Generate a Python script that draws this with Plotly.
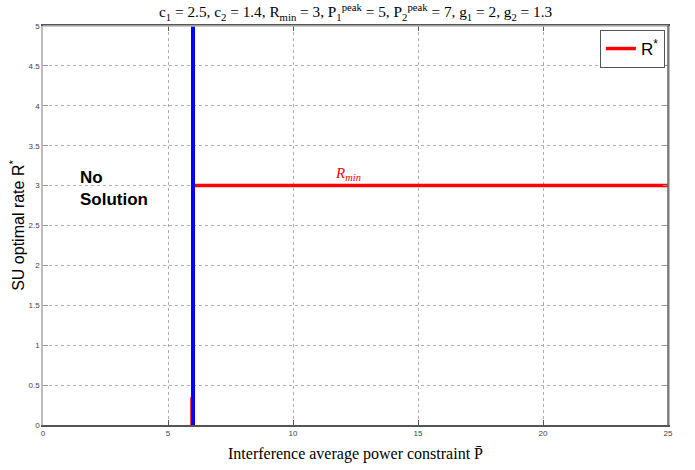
import plotly.graph_objects as go

# R* series (red): small rise segment near the threshold, then constant R_min
rstar_rise_x = [5.93, 5.93]
rstar_rise_y = [0.0, 0.35]
rstar_x = [6.0, 25.0]
rstar_y = [3.0, 3.0]
# threshold (blue vertical line)
thresh_x = [6.0, 6.0]
thresh_y = [0.0, 5.0]

x_ticks = [0, 5, 10, 15, 20, 25]
y_ticks = [0, 0.5, 1, 1.5, 2, 2.5, 3, 3.5, 4, 4.5, 5]
y_tick_text = ["0", "0.5", "1", "1.5", "2", "2.5", "3", "3.5", "4", "4.5", "5"]

fig = go.Figure()
fig.add_trace(go.Scatter(x=rstar_rise_x, y=rstar_rise_y, mode="lines",
                         line=dict(color="#ff0000", width=2), showlegend=False, hoverinfo="skip"))
fig.add_trace(go.Scatter(x=rstar_x, y=rstar_y, mode="lines", name="R<sup>*</sup>",
                         line=dict(color="#ff0000", width=3.5)))
fig.add_trace(go.Scatter(x=thresh_x, y=thresh_y, mode="lines",
                         line=dict(color="#0000ff", width=4), showlegend=False))

fig.add_annotation(x=12.2, y=3.0, xref="x", yref="y", yanchor="bottom", yshift=1,
                   text="<i>R<sub>min</sub></i>", showarrow=False,
                   font=dict(family="Liberation Serif", size=15, color="#ff0000"))
fig.add_annotation(x=1.4, y=3.25, xref="x", yref="y", xanchor="left", yanchor="top",
                   align="left", text="<b>No<br>Solution</b>", showarrow=False,
                   font=dict(family="Liberation Sans", size=17, color="black"))

# title as annotation
fig.add_annotation(x=0.5, y=1, xref="paper", yref="paper", xanchor="center", yanchor="bottom",
                   yshift=1, showarrow=False,
                   text="c<sub>1</sub> = 2.5, c<sub>2</sub> = 1.4, R<sub>min</sub> = 3, P<sub>1</sub><sup>peak</sup> = 5, P<sub>2</sub><sup>peak</sup> = 7, g<sub>1</sub> = 2, g<sub>2</sub> = 1.3",
                   font=dict(family="Liberation Serif", size=15.3, color="black"))

# borders: top light gray, right dark gray
fig.add_shape(type="line", xref="paper", yref="paper", x0=0, x1=1, y0=1, y1=1,
              line=dict(color="#bbbbbb", width=1.5))
fig.add_shape(type="line", xref="paper", yref="paper", x0=1, x1=1, y0=0, y1=1,
              line=dict(color="#666666", width=1.5))

tick_font = dict(family="Liberation Sans Narrow, Liberation Sans", size=8, color="#444444")
fig.update_layout(
    width=695, height=470,
    margin=dict(l=43, r=27, t=26, b=45),
    paper_bgcolor="white", plot_bgcolor="white",
    showlegend=True,
    legend=dict(x=0.995, y=0.99, xanchor="right", yanchor="top", itemwidth=30,
                bgcolor="white", bordercolor="#555555", borderwidth=1,
                font=dict(family="Liberation Sans", size=17, color="black")),
    xaxis=dict(range=[0, 25], tickvals=x_ticks, ticktext=[str(v) for v in x_ticks],
               automargin=False,
               showgrid=True, gridcolor="#b0b0b0", griddash="dot", gridwidth=1,
               zeroline=False, showline=True, linecolor="#555555", linewidth=1.5, mirror="ticks",
               ticks="inside", ticklen=5, tickcolor="#555555", tickfont=tick_font,
               title=dict(text="Interference average power constraint P\u0304", standoff=10,
                          font=dict(family="Liberation Serif", size=16, color="black"))),
    yaxis=dict(range=[0, 5], tickvals=y_ticks, ticktext=y_tick_text,
               automargin=False,
               showgrid=True, gridcolor="#b0b0b0", griddash="dot", gridwidth=1,
               zeroline=False, showline=True, linecolor="#bbbbbb", linewidth=1.5, mirror="ticks",
               ticks="inside", ticklen=5, tickcolor="#999999", tickfont=tick_font,
               title=dict(text="SU optimal rate R<sup>*</sup>", standoff=0,
                          font=dict(family="Liberation Sans", size=16, color="black"))),
)

fig.write_html("out.html", config={"displayModeBar": False},
               post_script="document.body.style.margin='0';")
